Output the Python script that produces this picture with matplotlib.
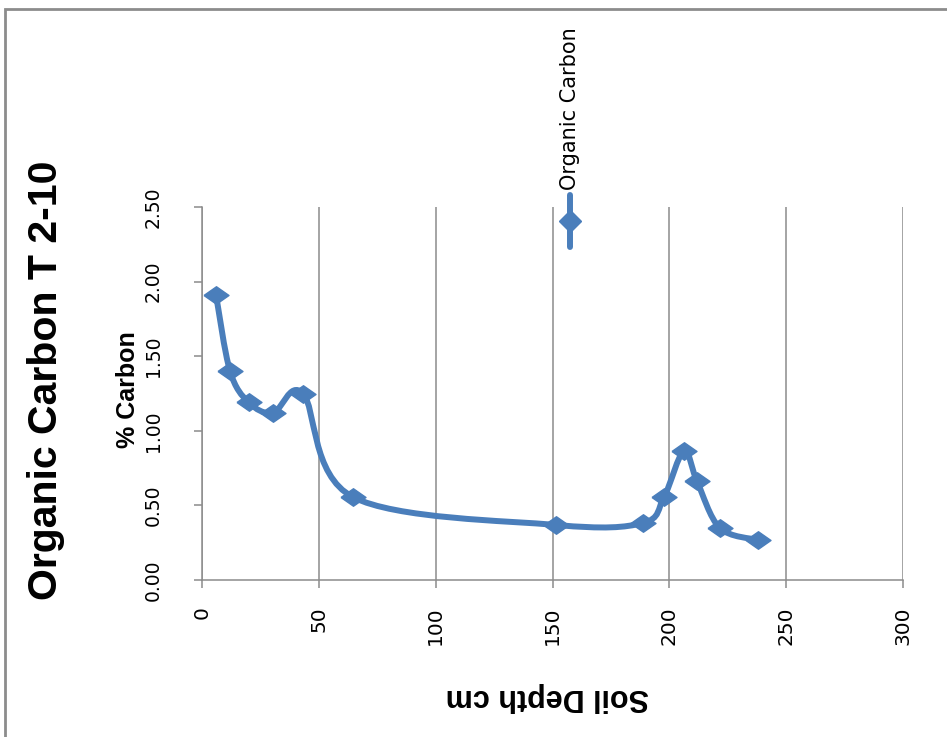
"""Organic carbon vs soil depth, drawn the way the sideways Excel chart looks."""
import numpy as np
import matplotlib.pyplot as plt
from matplotlib.path import Path
from matplotlib.patches import PathPatch, Rectangle
from matplotlib.lines import Line2D

depth_cm = [6.0, 12.0, 20.0, 30.4, 43.2, 64.6, 151.5, 188.7, 197.7, 206.2, 211.8, 221.6, 237.9]
carbon_pct = [1.91, 1.40, 1.19, 1.12, 1.25, 0.556, 0.369, 0.382, 0.556, 0.865, 0.664, 0.349, 0.268]
x_ticks = [0, 50, 100, 150, 200, 250, 300]
y_ticks = [0.0, 0.5, 1.0, 1.5, 2.0, 2.5]

BLUE = "#4A7EBB"
GREY = "#8C8C8C"

# the diamonds in the picture are squashed: wider than tall
FLAT_DIAMOND = [(-1, 0), (0, 0.7), (1, 0), (0, -0.7), (-1, 0)]


def smooth_path(xs, ys):
    """Excel-like smoothed line: cubic Bezier through every point."""
    pts = np.column_stack([xs, ys])
    n = len(pts)
    verts = [pts[0]]
    codes = [Path.MOVETO]
    for i in range(n - 1):
        p0 = pts[max(i - 1, 0)]
        p1 = pts[i]
        p2 = pts[i + 1]
        p3 = pts[min(i + 2, n - 1)]
        c1 = p1 + (p2 - p0) / 6.0
        c2 = p2 - (p3 - p1) / 6.0
        verts += [c1, c2, p2]
        codes += [Path.CURVE4] * 3
    return Path(verts, codes)


plt.rcParams["font.family"] = ["Liberation Sans", "DejaVu Sans"]

fig = plt.figure(figsize=(9.47, 7.37), dpi=100)
ax = fig.add_axes([202 / 947, 157 / 737, 701 / 947, 373 / 737])

ax.set_xlim(0, 300)
ax.set_ylim(0, 2.5)
line = PathPatch(smooth_path(depth_cm, carbon_pct), facecolor="none",
                 edgecolor=BLUE, lw=4.3, capstyle="round", joinstyle="round", zorder=3)
ax.add_patch(line)
ax.plot(depth_cm, carbon_pct, linestyle="none", marker=FLAT_DIAMOND, ms=18,
        color=BLUE, zorder=4)

ax.set_xticks(x_ticks)
ax.set_yticks(y_ticks)
ax.set_xticklabels([str(t) for t in x_ticks], rotation=90, fontsize=14.5,
                   family="DejaVu Sans", va="top")
ax.set_yticklabels([f"{t:.2f}" for t in y_ticks], rotation=90, fontsize=13.5,
                   family="DejaVu Sans", va="center")
ax.grid(axis="x", color=GREY, lw=1.1)
ax.set_axisbelow(True)
for side in ["top", "right"]:
    ax.spines[side].set_visible(False)
for side in ["left", "bottom"]:
    ax.spines[side].set_color(GREY)
    ax.spines[side].set_linewidth(1.1)
ax.tick_params(axis="both", color=GREY, length=6, width=1.1)
ax.tick_params(axis="x", pad=13)
ax.tick_params(axis="y", pad=22)

ax.set_xlabel("Soil Depth cm", rotation=180, fontsize=22, fontweight="bold")
ax.xaxis.set_label_coords((547 - 202) / 701, -(697 - 580) / 373)
ax.xaxis.label.set_va("center")
ax.set_ylabel("% Carbon", fontsize=18, fontweight="bold")
ax.yaxis.set_label_coords((128 - 202) / 701, (580 - 390) / 373)
ax.yaxis.label.set_va("center")

fig.text(46 / 947, 1 - 380 / 737, "Organic Carbon T 2-10", rotation=90,
         fontsize=29.5, fontweight="bold", ha="center", va="center")

# legend, turned on its side like the rest of the chart
lx = 570 / 947
fig.add_artist(Line2D([lx, lx], [1 - 247 / 737, 1 - 195 / 737], color=BLUE, lw=4.3,
                      solid_capstyle="round"))
fig.add_artist(Line2D([lx], [1 - 221 / 737], marker="D", ms=11, color=BLUE))
fig.text(lx, 1 - 190 / 737, "Organic Carbon", rotation=90, fontsize=15,
         family="DejaVu Sans", ha="center", va="bottom")

# chart area border
fig.add_artist(Rectangle((5 / 947, -0.1), 1.2, 1 - 9 / 737 + 0.1, transform=fig.transFigure,
                         fill=False, edgecolor=GREY, lw=2))

fig.savefig("out.png", dpi=100)
